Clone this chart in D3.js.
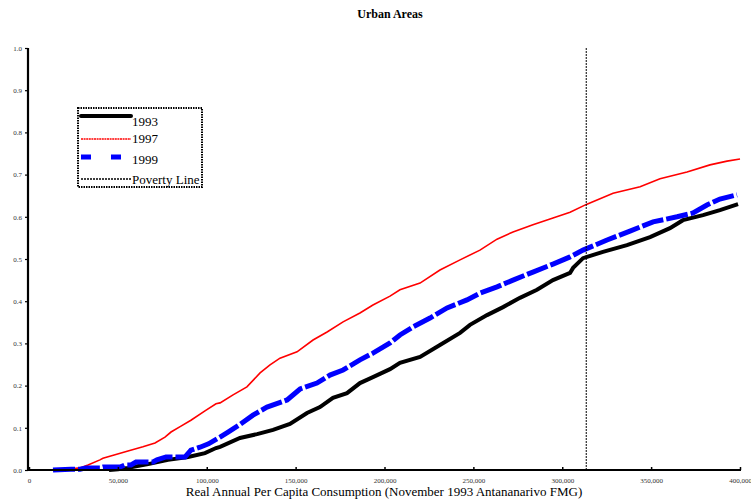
<!DOCTYPE html>
<html>
<head>
<meta charset="utf-8">
<script src="https://cdn.jsdelivr.net/npm/d3@7"></script>
<style>
  html, body { margin: 0; padding: 0; background: #fff; }
  svg { display: block; }
  text { font-family: "Liberation Serif", "Times New Roman", serif; }
</style>
</head>
<body>
<svg id="chart" width="751" height="504"></svg>
<script>
// Cumulative distribution of real per-capita consumption, urban areas.
// x: consumption in thousands of FMG, p: cumulative share of population.
const x1993 = [45, 50.1, 55.7, 67, 78.2, 89.5, 99, 105.2, 107.5, 118.7, 128.3, 137.3, 146.8, 156.4, 163.7, 171, 178.9, 186.2, 193.5, 203.1, 208.7, 220, 231.2, 242.5, 248.1, 257.7, 266.7, 276.2, 285.8, 294.8, 304.4, 306.1, 311.7, 322.9, 336.4, 349.4, 360.6, 367.9, 379.2, 388.7, 398.9];
const p1993 = [0, 0.002, 0.005, 0.014, 0.024, 0.031, 0.040, 0.052, 0.055, 0.076, 0.085, 0.095, 0.109, 0.135, 0.149, 0.171, 0.182, 0.206, 0.220, 0.239, 0.254, 0.268, 0.296, 0.325, 0.344, 0.367, 0.386, 0.408, 0.427, 0.450, 0.467, 0.479, 0.502, 0.517, 0.533, 0.552, 0.573, 0.592, 0.604, 0.616, 0.630];

const x1997 = [18, 28.7, 33.2, 39.9, 41.6, 48.4, 55.7, 64.1, 70.9, 76.5, 79.9, 85.5, 91.1, 99, 105.2, 107.5, 114.8, 122.6, 130, 135.6, 141.2, 150.8, 159.8, 167.7, 176.7, 186.2, 193.5, 203.1, 208.7, 220, 231.2, 242.5, 253.7, 263.3, 272.3, 283.5, 294.8, 304.4, 313.9, 328.6, 343.8, 355, 370.2, 383.1, 392.7, 400];
const p1997 = [0, 0.005, 0.012, 0.024, 0.028, 0.036, 0.045, 0.055, 0.064, 0.078, 0.090, 0.104, 0.118, 0.140, 0.157, 0.159, 0.178, 0.197, 0.230, 0.249, 0.265, 0.280, 0.308, 0.327, 0.351, 0.372, 0.391, 0.412, 0.427, 0.443, 0.474, 0.498, 0.521, 0.547, 0.564, 0.581, 0.597, 0.611, 0.630, 0.656, 0.671, 0.690, 0.706, 0.723, 0.732, 0.737];

const x1999 = [13.5, 23.6, 28.7, 32.1, 39.9, 41.6, 51.2, 54, 57.4, 60.2, 69.8, 72, 77.1, 87.8, 91.1, 96.2, 101, 107.5, 112, 118.7, 126, 133.9, 145.2, 152.5, 162, 169.3, 176.7, 186.2, 193.5, 203.1, 208.7, 216, 225.6, 235.2, 246.4, 253.7, 263.3, 272.3, 283.5, 294.8, 304.4, 311.7, 325.2, 338.1, 351.1, 364.6, 373.6, 381.4, 388.7, 398.3];
const p1999 = [0, 0.002, 0.002, 0.005, 0.005, 0.007, 0.007, 0.012, 0.012, 0.019, 0.019, 0.024, 0.031, 0.031, 0.047, 0.054, 0.062, 0.078, 0.090, 0.108, 0.130, 0.149, 0.166, 0.192, 0.206, 0.225, 0.237, 0.261, 0.277, 0.301, 0.320, 0.339, 0.360, 0.384, 0.403, 0.419, 0.434, 0.450, 0.469, 0.488, 0.505, 0.521, 0.545, 0.566, 0.588, 0.600, 0.609, 0.628, 0.642, 0.652];

const povertyLine = 313.5; // thousands FMG

const xTicks = [0, 50, 100, 150, 200, 250, 300, 350, 400];
const yTicks = [0, 0.1, 0.2, 0.3, 0.4, 0.5, 0.6, 0.7, 0.8, 0.9, 1.0];

const legendLabels = ["1993", "1997", "1999", "Poverty Line"];

const svg = d3.select("#chart");

const x = d3.scaleLinear().domain([0, 400]).range([29, 740]);
const y = d3.scaleLinear().domain([0, 1]).range([470, 48]);

// Title
svg.append("text")
  .attr("x", 390).attr("y", 18)
  .attr("text-anchor", "middle")
  .attr("font-size", 12).attr("font-weight", "bold")
  .text("Urban Areas");

// Series
const series = [
  { xs: x1993, ps: p1993, color: "#000", width: 4, dash: null },
  { xs: x1997, ps: p1997, color: "#ff0000", width: 1.6, dash: null },
  { xs: x1999, ps: p1999, color: "#0000ff", width: 5, dash: "22,3" }
];

const line = d3.line().x(d => x(d[0])).y(d => y(d[1]));

// Draw from back to front: 1997, 1993, 1999
[series[1], series[0], series[2]].forEach(s => {
  const pts = s.xs.map((v, i) => [v, s.ps[i]]);
  svg.append("path")
    .attr("d", line(pts))
    .attr("fill", "none")
    .attr("stroke", s.color)
    .attr("stroke-width", s.width)
    .attr("stroke-linejoin", "miter")
    .attr("stroke-dasharray", s.dash);
});

// Poverty line
svg.append("line")
  .attr("x1", x(povertyLine)).attr("x2", x(povertyLine))
  .attr("y1", y(1)).attr("y2", y(0))
  .attr("stroke", "#000").attr("stroke-width", 1)
  .attr("stroke-dasharray", "2,1");

// Axes
const xAxis = d3.axisBottom(x)
  .tickValues(xTicks)
  .tickSize(-3)
  .tickPadding(8)
  .tickFormat(d => d === 0 ? "0" : d3.format(",")(d * 1000));
const gx = svg.append("g").attr("transform", `translate(0,${y(0)})`).call(xAxis);
gx.select(".domain").attr("stroke-width", 2.2).attr("d", `M${x(0) - 1},0H${x(400) + 1}`);
gx.selectAll(".tick line").attr("stroke-width", 1.5);
gx.selectAll(".tick text")
  .attr("font-size", 7).attr("fill", "#333")
  .attr("font-family", "Liberation Serif, serif");

const yAxis = d3.axisLeft(y)
  .tickValues(yTicks)
  .tickSize(3)
  .tickPadding(3)
  .tickFormat(d3.format(".1f"));
const gy = svg.append("g").attr("transform", `translate(${x(0) - 1},0)`).call(yAxis);
gy.select(".domain").attr("stroke-width", 2.2).attr("d", `M0,${y(1)}V${y(0) + 1}`);
gy.selectAll(".tick line").attr("stroke-width", 1.2);
gy.selectAll(".tick text")
  .attr("font-size", 7).attr("fill", "#333")
  .attr("font-family", "Liberation Serif, serif");

// Legend
const legend = svg.append("g");
legend.append("rect")
  .attr("x", 78).attr("y", 108).attr("width", 124).attr("height", 79)
  .attr("fill", "#fff").attr("stroke", "#000")
  .attr("stroke-width", 2).attr("stroke-dasharray", "1.5,1");

const legendItems = [
  { color: "#000", width: 4, dash: null, ly: 116, ty: 126 },
  { color: "#ff0000", width: 1.6, dash: "2,0.6", ly: 139, ty: 143 },
  { color: "#0000ff", width: 5, dash: "10,20", ly: 157, ty: 164 },
  { color: "#000", width: 1.3, dash: "2,1", ly: 179, ty: 184 }
];
legendItems.forEach((it, i) => {
  legend.append("line")
    .attr("x1", 81).attr("x2", 131)
    .attr("y1", it.ly).attr("y2", it.ly)
    .attr("stroke", it.color).attr("stroke-width", it.width)
    .attr("stroke-dasharray", it.dash)
    .attr("stroke-linecap", i === 0 ? "round" : "butt");
  legend.append("text")
    .attr("x", 132).attr("y", it.ty)
    .attr("font-size", 13)
    .text(legendLabels[i]);
});

// X axis title
svg.append("text")
  .attr("x", 384).attr("y", 496)
  .attr("text-anchor", "middle")
  .attr("font-size", 13)
  .text("Real Annual Per Capita Consumption (November 1993 Antananarivo FMG)");
</script>
</body>
</html>
